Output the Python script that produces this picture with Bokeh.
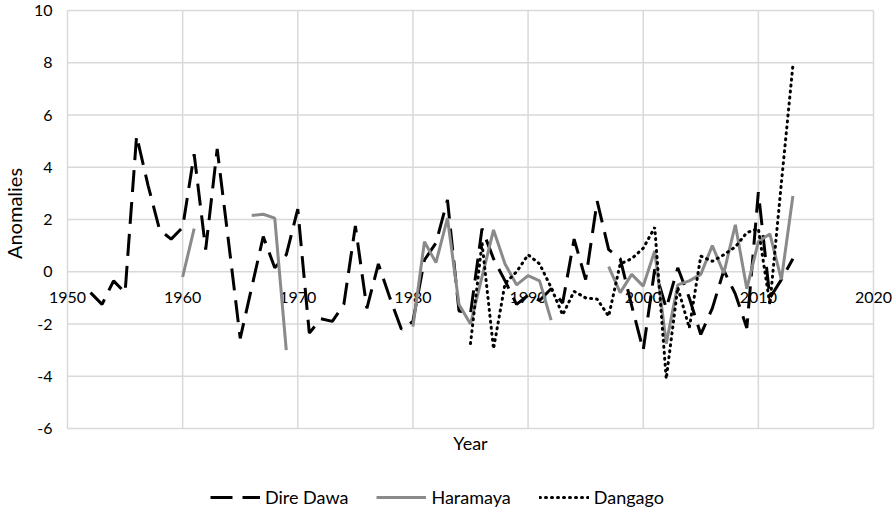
import math
from bokeh.plotting import figure
from bokeh.models import Legend, LegendItem, Range1d
from bokeh.core.properties import value
from bokeh.embed import file_html
from bokeh.resources import INLINE

nan = float("nan")

# ---- data ----
years_dire_dawa = list(range(1952, 2014))
dire_dawa = [-0.8, -1.25, -0.35, -0.8, 5.2, 3.3, 1.6, 1.25, 1.7,
             4.5, 0.85, 4.7, 1.1, -2.55, -0.6, 1.35, 0.15, 0.65, 2.4,
             -2.35, -1.8, -1.9, -1.25, 1.75, -1.4, 0.3, -1.0, -2.2, -1.9,
             0.45, 1.1, 2.75, -1.5, -1.6, 1.65, 0.5, -0.35, -1.25, -0.9,
             -1.1, -0.65, -1.2, 1.25, -0.3, 2.7, 0.85, 0.5, -1.3, -3.0,
             0.1, -1.4, 0.15, -1.0, -2.4, -1.4, 0.05, -0.85, -2.15, 3.05,
             -1.0, -0.3, 0.5]

years_haramaya = list(range(1960, 2014))
haramaya = [-0.2, 1.65, nan, nan, nan, nan, 2.15, 2.2, 2.05, -3.0,
            nan, nan, nan, nan, nan, nan, nan, nan, nan, nan,
            -2.1, 1.15, 0.35, 2.05, -1.25, -2.0, -0.2, 1.6, 0.3, -0.5,
            -0.15, -0.35, -1.85, nan, nan, nan, nan, 0.2, -0.8, -0.1,
            -0.55, 0.8, -2.75, -0.5, -0.35, -0.1, 1.0, -0.05, 1.8, -0.65,
            1.15, 1.45, -0.3, 2.9]

years_dangago = list(range(1985, 2014))
dangago = [-2.75, 1.1, -2.95, -0.45, 0.0, 0.65, 0.3, -0.6, -1.65, -0.75,
           -1.0, -1.05, -1.7, 0.3, 0.5, 0.9, 1.7, -4.1, -0.6, -2.15,
           0.6, 0.4, 0.65, 0.95, 1.5, 1.65, -1.25, 3.4, 7.9]

x_ticks = [1950, 1960, 1970, 1980, 1990, 2000, 2010, 2020]
x_tick_labels = [str(t) for t in x_ticks]
y_ticks = [-6, -4, -2, 0, 2, 4, 6, 8, 10]
y_tick_labels = [str(t) for t in y_ticks]

FONT = value("Lato")
GRID = "#d9d9d9"

# ---- canvas geometry (pixels) ----
W, H = 894, 510
PLOT_L, PLOT_R = 67, 873      # pixel columns of 1950 and 2020
PLOT_T, PLOT_B = 10, 428      # pixel rows of 10 and -6
x0, x1 = x_ticks[0], x_ticks[-1]
y0, y1 = y_ticks[0], y_ticks[-1]
xs = (x1 - x0) / (PLOT_R - PLOT_L)
ys = (y1 - y0) / (PLOT_B - PLOT_T)
x_range = Range1d(x0 - PLOT_L * xs, x1 + (W - PLOT_R) * xs)
y_range = Range1d(y0 - (H - PLOT_B) * ys, y1 + PLOT_T * ys)

p = figure(width=W, height=H, x_range=x_range, y_range=y_range,
           x_axis_type=None, y_axis_type=None,
           output_backend="svg", toolbar_location=None,
           min_border=0, min_border_left=0, min_border_right=0,
           min_border_top=0, min_border_bottom=0)
p.outline_line_color = None
p.background_fill_color = "white"
p.border_fill_color = "white"

# gridlines
n, m = len(x_ticks), len(y_ticks)
p.segment(x0=x_ticks, y0=[y0] * n, x1=x_ticks, y1=[y1] * n,
          line_color=GRID, line_width=1.5)
p.segment(x0=[x0] * m, y0=y_ticks, x1=[x1] * m, y1=y_ticks,
          line_color=GRID, line_width=1.5)

# tick labels
p.text(x=[x0] * m, y=y_ticks, text=y_tick_labels, text_align="right",
       text_baseline="middle", x_offset=-15, text_font=FONT,
       text_font_size="16px", text_color="black")
p.text(x=x_ticks, y=[0] * n, text=x_tick_labels, text_align="center",
       text_baseline="middle", y_offset=26, text_font=FONT,
       text_font_size="16px", text_color="black")

# axis titles
p.text(x=[x0], y=[(y0 + y1) / 2], text=["Anomalies"], angle=math.pi / 2,
       text_align="center", text_baseline="middle", x_offset=-54,
       y_offset=-6, text_font=FONT, text_font_size="20px", text_color="black")
p.text(x=[(x0 + x1) / 2], y=[y0], text=["Year"], text_align="center",
       text_baseline="middle", y_offset=14, text_font=FONT,
       text_font_size="18px", text_color="black")

# series
r_dd = p.line(years_dire_dawa, dire_dawa, line_color="black", line_width=3,
              line_dash="22 10")
r_ha = p.line(years_haramaya, haramaya, line_color="#8a8a8a", line_width=3)
r_dg = p.line(years_dangago, dangago, line_color="black", line_width=3,
              line_dash="1 5", line_cap="round")

legend = Legend(items=[LegendItem(label="Dire Dawa", renderers=[r_dd]),
                       LegendItem(label="Haramaya", renderers=[r_ha]),
                       LegendItem(label="Dangago", renderers=[r_dg])],
                orientation="horizontal", location=(210, 2),
                glyph_width=50, glyph_height=20, label_standoff=5,
                spacing=28, padding=0, margin=0,
                label_text_font="Lato", label_text_font_size="18px",
                label_text_color="black",
                border_line_color=None, background_fill_alpha=0)
p.add_layout(legend)

open("out.html", "w").write(file_html(p, INLINE))
